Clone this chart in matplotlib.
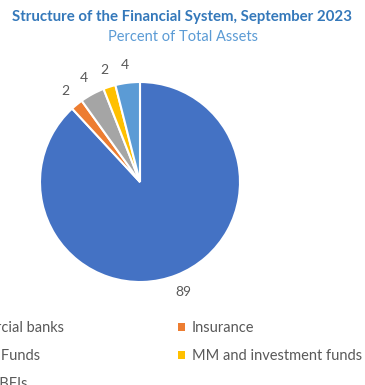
import matplotlib.pyplot as plt
from matplotlib.patches import Patch

# Structure of the financial system, percent of total assets
sectors = ['Commercial banks', 'Insurance', 'Pension Funds',
           'MM and investment funds', 'Other NBFIs']
shares = [89, 2, 4, 2, 4]
colors = ['#4472C4', '#ED7D31', '#A5A5A5', '#FFC000', '#5B9BD5']

plt.rcParams['font.family'] = ['Lato', 'DejaVu Sans']

fig = plt.figure(figsize=(3.65, 3.85), dpi=100)

fig.text(0.5, 0.955, 'Structure of the Financial System, September 2023',
         ha='center', va='center', fontsize=10.8, fontweight='bold',
         color='#3478BA')
fig.text(0.5, 0.905, 'Percent of Total Assets', ha='center', va='center',
         fontsize=10.5, color='#5B9BD5')

ax = fig.add_axes([140 / 365 - 100 / 365, 1 - 282 / 385, 200 / 365, 200 / 385])
wedges, texts = ax.pie(shares, colors=colors, labels=[str(s) for s in shares],
                       startangle=90, counterclock=False, labeldistance=1.18,
                       wedgeprops=dict(edgecolor='white', linewidth=1.5),
                       textprops=dict(color='#595959', fontsize=10))
for t in texts:
    t.set_ha('center')
    t.set_va('center')
ax.set_xlim(-1, 1)
ax.set_ylim(-1, 1)

# legend reads row by row, matplotlib fills columns first
order = [0, 2, 4, 1, 3]
handles = [Patch(facecolor=colors[i], edgecolor='none') for i in order]
fig.legend(handles, [sectors[i] for i in order], loc='upper left',
           bbox_to_anchor=(-0.205, 0.185), ncol=2, frameon=False,
           fontsize=10.5, handlelength=0.45, handleheight=0.45,
           handletextpad=0.5, columnspacing=7.8, labelspacing=0.95,
           borderpad=0, labelcolor='#595959')

fig.savefig('out.png', dpi=100)
